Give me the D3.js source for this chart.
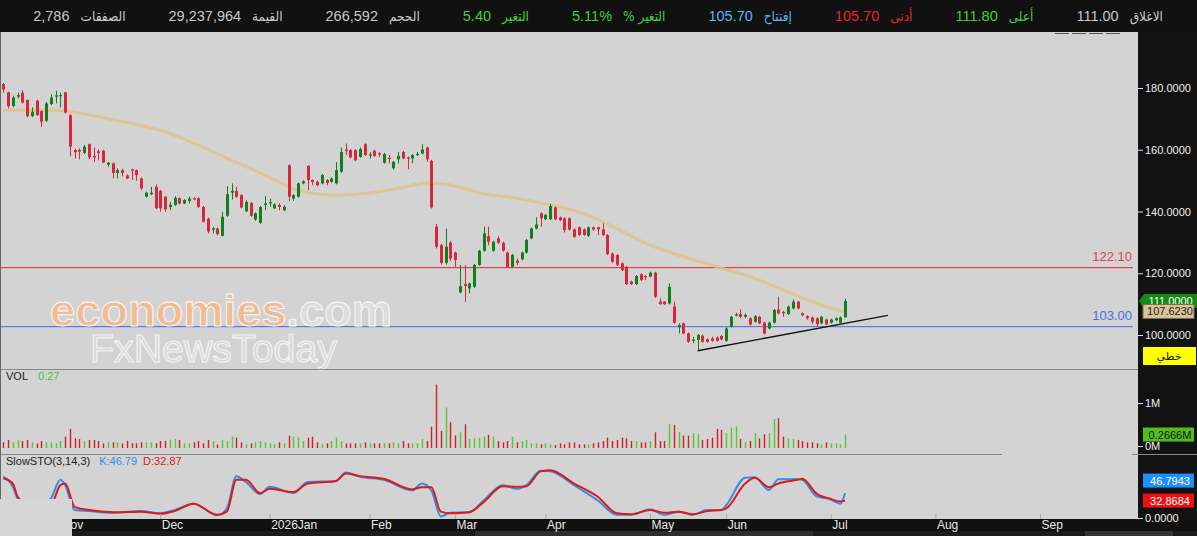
<!DOCTYPE html>
<html>
<head>
<meta charset="utf-8">
<script src="https://cdn.jsdelivr.net/npm/d3@7"></script>
<style>
body { margin: 0; background: #111; }
svg { display: block; }
text { font-family: "Liberation Sans", Arial, "DejaVu Sans", sans-serif; }
</style>
</head>
<body>
<div id="chart"></div>
<script>
// ---- data ----
var quoteLabels = ['الاغلاق', 'أعلى', 'أدنى', 'إفتتاح', '% التغير', 'التغير', 'الحجم', 'القيمة', 'الصفقات'];
var quoteValues = ['111.00', '111.80', '105.70', '105.70', '5.11%', '5.40', '266,592', '29,237,964', '2,786'];
var quoteColors = ['#c8c8c8', '#3fd13f', '#e8242c', '#5bb8ec', '#3fd13f', '#3fd13f', '#c8c8c8', '#c8c8c8', '#c8c8c8'];

// trading calendar (Sun-Thu) and market holidays
var firstDay = '2025-10-15';
var holidays = ['2026-02-22', '2026-02-23', '2026-03-18', '2026-03-19', '2026-03-22', '2026-03-23',
                '2026-05-25', '2026-05-26', '2026-05-27', '2026-05-28', '2026-05-31'];

var open = [181.3,178.6,174.2,177.2,178.5,176.1,170.9,175.9,172.5,169.4,174.8,177.2,177.4,178.6,171.2,159.9,159.9,159.0,161.8,158.0,
  159.5,159.7,155.1,155.6,152.5,153.4,151.7,153.6,153.4,150.7,144.8,145.6,148.0,146.7,144.8,141.5,142.1,144.3,142.6,143.4,
  144.3,144.3,141.5,137.7,134.1,134.5,132.1,138.6,146.1,146.7,145.3,140.1,142.8,137.4,136.3,142.1,142.6,141.0,142.1,140.4,
  155.0,144.2,144.8,149.1,154.8,150.2,149.6,149.1,150.2,149.6,149.1,152.9,160.1,159.9,159.9,157.7,161.8,158.1,159.7,158.8,
  155.8,157.4,154.0,156.9,159.3,157.5,157.2,158.3,158.8,160.7,156.4,135.1,129.1,123.4,129.9,126.7,113.8,116.5,115.1,115.6,
  122.7,127.3,132.0,127.3,131.3,129.9,126.7,122.1,124.1,124.5,126.7,131.3,134.5,139.4,137.5,137.5,141.3,138.1,137.8,137.8,
  134.2,134.9,134.2,132.1,134.9,134.9,134.2,132.4,126.4,125.9,123.2,122.1,117.3,116.5,119.7,119.1,118.9,120.2,110.8,110.8,
  110.2,109.2,102.5,103.8,100.5,98.1,98.4,99.8,98.6,98.9,99.2,99.7,98.1,102.7,106.3,106.8,105.9,105.4,104.3,105.9,
  104.0,102.1,104.0,108.3,107.5,106.8,108.6,110.8,107.0,106.1,105.7,105.4,103.8,105.0,104.0,104.8,104.0,105.7];
var high = [181.6,178.8,177.5,178.5,179.3,176.3,173.7,176.2,172.8,175.5,178.0,179.1,178.5,178.8,171.5,160.3,160.4,161.6,162.0,160.7,
  160.1,160.0,156.0,155.8,154.0,153.9,152.0,153.9,153.6,151.0,146.4,148.0,148.8,147.0,145.0,143.1,145.0,144.6,144.0,144.8,
  144.6,144.6,141.8,138.0,135.0,134.8,139.9,148.2,149.1,148.0,145.6,143.6,143.0,139.7,141.8,145.0,144.2,142.6,142.6,142.0,
  155.2,145.6,149.4,150.1,155.0,150.4,150.0,152.2,150.5,151.0,156.0,160.7,162.0,160.2,160.2,160.7,162.1,159.3,160.0,159.3,
  159.0,158.3,156.4,159.3,159.6,157.8,158.6,159.3,161.8,161.0,156.7,136.0,129.5,134.5,130.5,127.0,122.7,122.7,117.0,123.0,
  127.6,135.1,135.1,130.5,132.0,130.2,127.0,126.2,124.8,127.0,131.1,134.8,138.1,139.7,139.2,142.5,141.6,138.4,138.1,138.1,
  134.5,135.1,134.5,135.1,135.1,135.1,136.2,132.7,126.7,126.2,123.5,122.4,117.6,119.4,120.0,119.4,120.5,120.5,111.9,111.0,
  116.7,110.8,103.8,104.0,100.8,99.4,100.3,100.1,98.9,99.4,99.5,100.0,102.5,106.2,107.2,108.3,107.0,105.7,106.4,106.2,
  104.3,104.3,108.4,112.4,107.8,109.5,111.5,111.0,107.3,106.4,106.0,105.7,106.2,105.3,105.3,105.7,106.0,111.8];
var low = [178.5,173.4,173.8,176.6,175.0,170.5,170.6,171.0,167.4,169.0,174.5,175.0,173.7,171.8,157.9,157.2,156.9,158.6,157.0,156.0,
  156.6,155.7,154.5,150.7,150.7,151.4,150.5,150.2,149.9,146.9,144.5,145.3,140.8,139.9,139.9,140.4,141.8,142.3,142.4,142.6,
  143.6,141.2,136.4,132.9,132.9,132.3,131.9,138.3,143.9,144.5,141.0,139.8,138.3,137.0,136.0,140.4,141.5,140.8,140.4,140.1,
  143.4,143.4,144.5,148.8,146.9,148.5,148.2,148.8,148.5,149.3,148.8,152.5,158.3,157.2,156.3,157.4,158.0,157.2,157.7,157.7,
  155.5,155.6,153.6,155.6,156.9,153.7,155.6,158.0,158.5,156.1,141.0,128.0,122.8,122.8,124.0,122.1,113.5,110.8,113.5,115.3,
  122.4,127.0,129.1,127.0,129.5,127.0,121.8,121.8,122.7,124.2,126.4,131.0,134.2,135.1,137.2,137.2,137.2,136.9,133.2,133.8,
  131.5,132.1,132.1,131.8,133.8,132.4,132.1,125.9,123.4,122.4,120.7,116.2,116.2,116.2,117.5,117.8,118.7,112.0,109.8,109.7,
  109.9,103.7,100.5,100.2,97.5,97.3,94.9,97.5,97.5,97.8,97.9,98.3,97.8,102.4,106.0,105.4,105.4,103.1,104.0,103.5,
  100.2,101.8,103.7,106.7,105.9,106.5,108.3,108.3,106.1,105.0,103.5,102.7,103.5,103.2,103.7,104.5,103.7,105.7];
var close = [179.5,174.1,176.9,177.7,175.3,170.9,172.3,171.2,169.1,175.0,176.9,177.6,177.7,172.0,161.0,159.2,159.4,161.0,157.5,157.5,
  159.0,155.9,155.8,152.5,153.4,152.5,150.7,153.2,151.8,147.5,146.1,146.1,141.0,141.0,140.7,142.2,144.4,142.6,143.7,144.2,
  143.9,141.5,136.7,133.5,134.5,132.7,138.3,145.6,146.7,144.8,141.3,143.1,138.6,139.4,141.5,142.6,143.0,142.3,141.5,141.5,
  144.8,145.3,149.1,149.8,150.2,149.6,148.5,151.8,149.3,150.7,153.4,159.3,159.7,157.5,156.6,160.2,158.3,158.5,158.0,158.4,
  158.6,157.0,156.1,158.0,157.2,157.1,158.3,158.7,160.1,156.9,141.3,128.6,123.4,128.6,124.8,124.3,115.8,115.9,116.7,122.7,
  127.3,132.9,130.2,130.2,129.9,127.3,122.1,125.9,123.4,126.7,130.8,134.5,135.8,137.8,138.9,141.8,137.5,137.2,134.0,134.2,
  131.8,132.4,132.4,134.9,134.2,134.2,132.4,126.2,123.7,122.7,121.0,116.5,116.5,119.1,117.8,118.7,120.2,112.4,110.0,110.0,
  115.6,104.0,103.2,100.5,97.8,98.5,100.0,97.8,97.8,98.1,98.1,98.6,102.1,105.9,106.7,105.9,106.5,103.4,106.1,103.8,
  100.5,104.0,108.1,107.0,107.0,109.2,110.8,108.6,106.4,105.4,104.3,103.5,105.9,103.5,105.0,105.4,105.7,111.0];
// volume, thousands of shares
var volume = [86,140,86,140,117,140,86,62,117,86,86,62,117,218,398,179,164,117,140,140,
  117,62,86,86,86,62,117,62,62,86,86,86,62,117,117,140,164,140,62,62,
  86,117,62,140,117,39,140,117,218,195,86,39,62,86,117,86,62,39,86,62,
  242,218,195,117,195,218,86,39,62,117,195,117,62,62,62,62,86,62,62,62,
  62,62,86,62,117,62,62,62,164,117,452,1427,351,897,554,242,320,507,164,179,
  195,218,257,218,117,86,117,218,86,117,140,62,62,39,62,39,23,62,39,86,
  86,39,39,39,62,86,117,195,117,140,195,179,117,117,86,86,117,320,117,117,
  507,491,320,242,242,296,273,140,164,195,398,374,296,429,452,164,86,117,296,179,
  273,296,632,647,218,179,164,140,117,86,86,62,39,86,62,62,39,266.6];

// 50-day average as drawn, sampled at bar indices
var maIdx = [0, 10, 13, 20, 27, 34, 41, 48, 55, 62, 69, 76, 83, 89, 94, 101, 108, 115, 122, 129, 136, 143, 150, 157, 164, 171, 177];
var maVal = [172.8, 172.8, 172.6, 170.7, 168.5, 165.8, 161.5, 156.6, 151.8, 146.9, 145.3, 145.8, 147.5, 149.2, 148.6, 145.7,
             144.3, 142.1, 139.4, 134.5, 129.1, 125.4, 122.1, 118.9, 114.6, 110.2, 107.623];

// slow stochastic, sampled at bar indices
var stoIdx = [0,2,3,6,10,12,13,15,18,23,29,33,36,40,45,47,49,51,54,56,61,64,70,72,75,80,86,88,90,92,
              94,98,101,105,108,110,113,115,120,125,129,132,136,139,142,145,148,151,152,156,158,161,163,167,168,171,174,176,177];
var stoK = [78,59,37,15,37,72,62,15,13,10,13,9,15,27,5,18,79,68,45,59,47,68,70,86,78,72,52,65,52,3,
            10,11,33,62,55,62,89,88,62,33,6,6,16,6,12,6,15,15,24,76,77,53,73,73,72,41,35,27,46.79];
var stoD = [75,65,40,20,25,62,65,21,15,11,12,8,13,27,6,12,72,72,47,55,49,65,70,84,79,74,54,58,58,12,
            9,11,30,60,59,60,88,90,65,40,9,7,15,10,12,7,13,15,18,65,76,58,65,72,74,46,36,31,32.87];

var levels = [122.10, 103.00];
var levelColors = ['#f03c4c', '#5b7be8'];
var levelTextColors = ['#e2405a', '#4a6fe0'];

var trendIdx = [146, 186];
var trendVal = [94.9, 106.35];

var priceTicks = [100, 120, 140, 160, 180];
var lastClose = 111.0;
var lastMa = 107.623;
var lastVol = 266.6;
var lastK = 46.7943, lastD = 32.8684;

// ---- layout ----
var W = 1197, H = 536;
var plotRight = 1138;
var mainTop = 32, mainBottom = 369;
var volBottom = 448, volSep = 454;
var axisTop = 519, axisBottom = 531;

var upCol = '#12801a', downCol = '#d8263c';
var volUp = '#56c82d', volDown = '#d41e26';

// trading days
var hol = new Set(holidays);
var days = [];
var cur = new Date(firstDay + 'T00:00:00Z');
while (days.length < 240) {
  var iso = cur.toISOString().slice(0, 10);
  if (cur.getUTCDay() <= 4 && !hol.has(iso)) days.push(new Date(cur));
  cur.setUTCDate(cur.getUTCDate() + 1);
}

var x = d3.scaleLinear().domain([-0.7, 238.6]).range([0, plotRight]);
var yP = d3.scaleLinear().domain([100, 180]).range([335, 88]);
var yV = d3.scaleLinear().domain([0, 1000]).range([446, 403]);
var yS = d3.scaleLinear().domain([0, 100]).range([518, 465]);

var monthIdx = [];
days.forEach(function(t, i) {
  if (i > 0 && t.getUTCMonth() !== days[i - 1].getUTCMonth() && x(i) < plotRight - 20) monthIdx.push(i);
});
var monthLabels = monthIdx.map(function(i) {
  var t = days[i];
  return t.getUTCMonth() === 0 ? d3.utcFormat('%Y%b')(t) : d3.utcFormat('%b')(t);
});

var svg = d3.select('#chart').append('svg')
  .attr('width', W)
  .attr('height', H);

svg.append('rect').attr('width', W).attr('height', H).attr('fill', '#111');
svg.append('rect').attr('x', 0).attr('y', mainTop).attr('width', plotRight).attr('height', axisTop - mainTop)
  .attr('fill', '#d3d3d3');

// ---- quote bar ----
var quote = svg.append('g');
var xr = 1163;
quoteLabels.forEach(function(lab, i) {
  var t1 = quote.append('text').attr('x', xr).attr('y', 21).attr('text-anchor', 'end')
    .style('font-family', '"DejaVu Sans Condensed", "DejaVu Sans", sans-serif')
    .style('font-size', '13.5px').attr('fill', quoteColors[i]).text(lab);
  xr -= t1.node().getComputedTextLength() + 11;
  var t2 = quote.append('text').attr('x', xr).attr('y', 21).attr('text-anchor', 'end')
    .style('font-size', '14.5px').attr('fill', quoteColors[i]).text(quoteValues[i]);
  xr -= t2.node().getComputedTextLength() + 43;
});
svg.append('line').attr('x1', 1055).attr('x2', 1122).attr('y1', 33.5).attr('y2', 33.5)
  .attr('stroke', '#555').attr('stroke-dasharray', '14,3');

// ---- main panel ----
svg.append('defs').append('clipPath').attr('id', 'mainClip')
  .append('rect').attr('x', 0).attr('y', mainTop).attr('width', plotRight).attr('height', mainBottom - mainTop);
var main = svg.append('g').attr('clip-path', 'url(#mainClip)');

levels.forEach(function(lv, i) {
  main.append('rect')
    .attr('x', 0).attr('width', plotRight - 5)
    .attr('y', Math.round(yP(lv))).attr('height', 1.2)
    .style('fill', levelColors[i]);
  main.append('text')
    .attr('x', plotRight - 6).attr('y', yP(lv) - 6)
    .attr('text-anchor', 'end')
    .style('font-size', '13px')
    .attr('fill', levelTextColors[i])
    .text(lv.toFixed(2));
});

var maPts = maIdx.map(function(d, i) { return [d, maVal[i]]; });
main.append('path')
  .attr('d', d3.line()
    .x(function(d) { return x(d[0]); })
    .y(function(d) { return yP(d[1]); })
    .curve(d3.curveCatmullRom)(maPts))
  .attr('fill', 'none')
  .attr('stroke', '#e0c286')
  .attr('stroke-opacity', 0.85)
  .attr('stroke-width', 3);

var candles = close.map(function(c, i) {
  return {i: i, o: open[i], h: high[i], l: low[i], c: c, v: volume[i]};
});

var cg = main.append('g').selectAll('g').data(candles).enter().append('g');
cg.append('line')
  .attr('x1', function(d) { return Math.round(x(d.i)) + 0.5; })
  .attr('x2', function(d) { return Math.round(x(d.i)) + 0.5; })
  .attr('y1', function(d) { return yP(d.h); })
  .attr('y2', function(d) { return yP(d.l); })
  .attr('stroke', function(d) { return d.c >= d.o ? upCol : downCol; })
  .attr('stroke-width', 1);
cg.append('rect')
  .attr('x', function(d) { return Math.round(x(d.i)) - 1; })
  .attr('width', 3)
  .attr('y', function(d) { return yP(Math.max(d.o, d.c)); })
  .attr('height', function(d) { return Math.max(1, Math.abs(yP(d.o) - yP(d.c))); })
  .attr('fill', function(d) { return d.c >= d.o ? upCol : downCol; });

main.append('line')
  .attr('x1', x(trendIdx[0])).attr('y1', yP(trendVal[0]))
  .attr('x2', x(trendIdx[1])).attr('y2', yP(trendVal[1]))
  .attr('stroke', '#111').attr('stroke-width', 1.3);

// watermark
var wm = svg.append('g');
var t1 = wm.append('text')
  .attr('x', 50).attr('y', 326)
  .attr('textLength', 342).attr('lengthAdjust', 'spacingAndGlyphs')
  .style('font-size', '44px').style('font-weight', 'bold')
  .attr('stroke', '#fafafa').attr('stroke-width', 0.9);
t1.append('tspan').attr('fill', '#f3bb92').text('economies');
t1.append('tspan').attr('fill', '#dddddd').text('.com');
wm.append('text')
  .attr('x', 90).attr('y', 362)
  .attr('textLength', 247).attr('lengthAdjust', 'spacingAndGlyphs')
  .style('font-size', '39px')
  .attr('fill', '#d9d9d9').attr('stroke', '#f2f2f2').attr('stroke-width', 1.2)
  .text('FxNewsToday');

// separators
svg.append('line').attr('x1', 0).attr('x2', plotRight).attr('y1', mainBottom + 0.5).attr('y2', mainBottom + 0.5)
  .attr('stroke', '#888');
svg.append('line').attr('x1', 0).attr('x2', 1002).attr('y1', volSep + 0.5).attr('y2', volSep + 0.5)
  .attr('stroke', '#888');
svg.append('line').attr('x1', 0.5).attr('x2', 0.5).attr('y1', mainTop).attr('y2', axisTop)
  .attr('stroke', '#666');

// ---- volume ----
svg.append('g').selectAll('rect').data(candles).enter().append('rect')
  .attr('x', function(d) { return Math.round(x(d.i)) - 0.2; })
  .attr('width', 1.4)
  .attr('y', function(d) { return yV(d.v); })
  .attr('height', function(d) { return volBottom - yV(d.v); })
  .attr('fill', function(d) { return d.c >= d.o ? volUp : volDown; });

var vl = svg.append('g').style('font-size', '11px');
var vt = vl.append('text').attr('x', 6).attr('y', 380).attr('fill', '#222').text('VOL');
vl.append('text').attr('x', 6 + vt.node().getComputedTextLength() + 10).attr('y', 380)
  .attr('fill', '#3cc43c').text((lastVol / 1000).toFixed(2));

// ---- stochastic ----
var stoLine = function(vals) {
  return d3.line()
    .x(function(d, i) { return x(stoIdx[i]); })
    .y(function(d) { return yS(d); })
    .curve(d3.curveMonotoneX)(vals);
};
svg.append('path').attr('d', stoLine(stoK)).attr('fill', 'none')
  .attr('stroke', '#2f8fe8').attr('stroke-width', 2);
svg.append('path').attr('d', stoLine(stoD)).attr('fill', 'none')
  .attr('stroke', '#e01818').attr('stroke-width', 2);

var sl = svg.append('g').style('font-size', '11px');
var st1 = sl.append('text').attr('x', 6).attr('y', 465).attr('fill', '#222').text('SlowSTO(3,14,3)');
var sx = 6 + st1.node().getComputedTextLength() + 9;
var st2 = sl.append('text').attr('x', sx).attr('y', 465).attr('fill', '#2f8fe8').text('K:' + lastK.toFixed(2));
sx += st2.node().getComputedTextLength() + 6;
sl.append('text').attr('x', sx).attr('y', 465).attr('fill', '#e01818').text('D:' + lastD.toFixed(2));

// ---- x axis ----
svg.append('rect').attr('x', 0).attr('y', axisTop).attr('width', W).attr('height', axisBottom - axisTop)
  .attr('fill', '#111');
svg.append('rect').attr('x', 0).attr('y', axisBottom).attr('width', W).attr('height', H - axisBottom)
  .attr('fill', '#1c1c1c');
svg.append('rect').attr('x', 475).attr('y', axisBottom).attr('width', 338).attr('height', H - axisBottom)
  .attr('fill', '#2e2e2e');
svg.append('rect').attr('x', 1085).attr('y', axisBottom).attr('width', 88).attr('height', H - axisBottom)
  .attr('fill', '#333');

var xAxis = d3.axisBottom(x)
  .tickValues(monthIdx)
  .tickFormat(function(d, k) { return monthLabels[k]; })
  .tickSizeInner(-5)
  .tickSizeOuter(0)
  .tickPadding(1);
var xg = svg.append('g').attr('transform', 'translate(0,' + axisTop + ')').call(xAxis);
xg.select('.domain').remove();
xg.selectAll('.tick line').attr('stroke', '#aaa');
xg.selectAll('.tick text')
  .attr('text-anchor', 'start').attr('x', 1)
  .attr('fill', '#e8e8e8')
  .style('font-size', '12px')
  .style('font-family', '"Liberation Sans", Arial, sans-serif');

// box in the lower left corner
svg.append('rect').attr('x', 0).attr('y', 499).attr('width', 72).attr('height', H - 499).attr('fill', '#d6d6d6');

// ---- right axes ----
svg.append('rect').attr('x', plotRight).attr('y', mainTop).attr('width', W - plotRight).attr('height', axisTop - mainTop)
  .attr('fill', '#121212');
svg.append('line').attr('x1', 1132).attr('x2', W).attr('y1', volSep + 0.5).attr('y2', volSep + 0.5)
  .attr('stroke', '#888');

function styleAxis(g) {
  g.select('.domain').remove();
  g.selectAll('.tick line').attr('stroke', '#ddd');
  g.selectAll('.tick text').attr('fill', '#eee').style('font-size', '11px')
    .style('font-family', '"Liberation Sans", Arial, sans-serif');
}
svg.append('g').attr('transform', 'translate(' + plotRight + ',0)')
  .call(d3.axisRight(yP).tickValues(priceTicks).tickFormat(d3.format('.4f')).tickSize(5).tickPadding(2))
  .call(styleAxis);
svg.append('g').attr('transform', 'translate(' + plotRight + ',0)')
  .call(d3.axisRight(yV).tickValues([0, 1000]).tickFormat(function(d) { return d / 1000 + 'M'; }).tickSize(5).tickPadding(2))
  .call(styleAxis);
svg.append('g').attr('transform', 'translate(' + plotRight + ',0)')
  .call(d3.axisRight(yS).tickValues([0]).tickFormat(d3.format('.4f')).tickSize(5).tickPadding(2))
  .call(styleAxis);

function tag(y, label, fill, color, arrow) {
  var g = svg.append('g');
  var h = 14, x0 = arrow ? plotRight + 6 : plotRight + 5;
  if (arrow) {
    g.append('path')
      .attr('d', 'M' + (plotRight + 1) + ',' + y + 'L' + x0 + ',' + (y - h / 2) + 'L' + W + ',' + (y - h / 2) +
                 'L' + W + ',' + (y + h / 2) + 'L' + x0 + ',' + (y + h / 2) + 'Z')
      .attr('fill', fill);
  } else {
    g.append('rect').attr('x', x0).attr('y', y - h / 2).attr('width', W - x0 - 3).attr('height', h)
      .attr('fill', fill);
  }
  g.append('text').attr('x', (x0 + W - 2) / 2 + 1).attr('y', y + 4).attr('text-anchor', 'middle')
    .style('font-size', '11px').attr('fill', color).text(label);
  return g;
}
tag(yP(lastClose), lastClose.toFixed(4), '#138a13', '#fff', true);
tag(yP(lastMa), lastMa.toFixed(4), '#d9c397', '#222', false).select('rect').attr('stroke', '#7a6a4a');
tag(yV(lastVol), (lastVol / 1000).toFixed(4) + 'M', '#52be1c', '#111', false);
var dY = yS(lastD);
var kY = Math.min(yS(lastK), dY - 20);
tag(kY, lastK.toFixed(4), '#1e8fff', '#fff', false);
tag(dY, lastD.toFixed(4), '#f01010', '#fff', false);

// linear / log toggle
svg.append('rect').attr('x', 1143).attr('y', 347).attr('width', 53).attr('height', 18).attr('fill', '#ffff00');
svg.append('text').attr('x', 1169).attr('y', 360).attr('text-anchor', 'middle').style('font-size', '11px')
  .attr('fill', '#111').text('خطي');
</script>
</body>
</html>
